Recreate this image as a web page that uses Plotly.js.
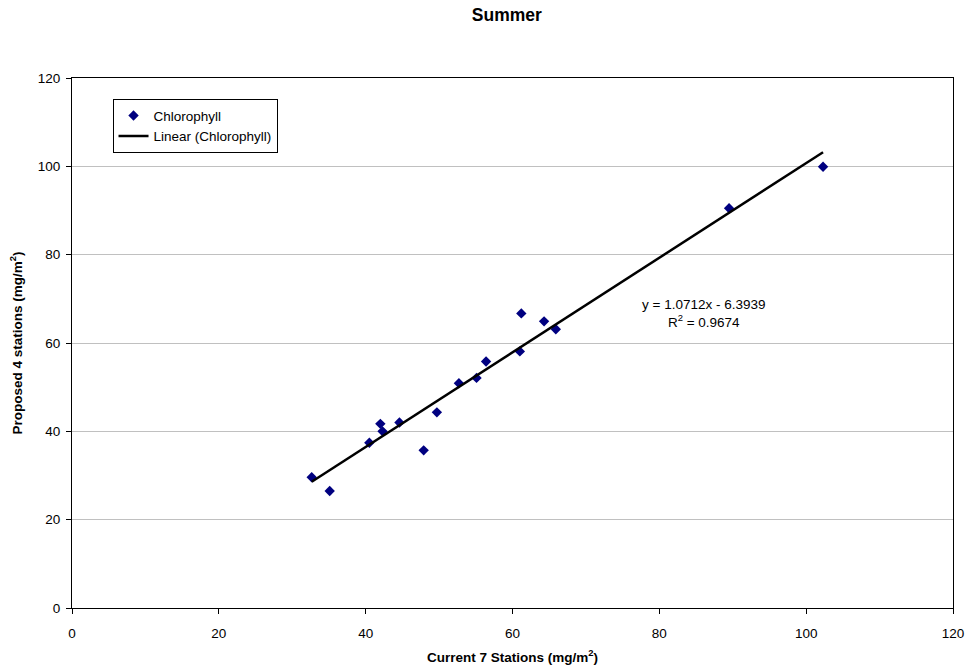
<!DOCTYPE html>
<html>
<head>
<meta charset="utf-8">
<script src="https://cdn.plot.ly/plotly-3.0.1.min.js"></script>
<style>html,body{margin:0;padding:0;background:#fff}#chart{width:969px;height:670px}</style>
</head>
<body>
<div id="chart"></div>
<script>
// Data
var currentStations = [32.65, 35.1, 40.5, 42.0, 42.3, 44.6, 47.9, 49.7, 52.7, 55.1, 56.4, 61.0, 61.2, 64.3, 65.9, 89.5, 102.3];
var proposedStations = [29.6, 26.5, 37.4, 41.7, 40.0, 42.0, 35.7, 44.3, 50.9, 52.1, 55.8, 58.1, 66.7, 64.9, 63.1, 90.5, 99.9];
var trendSlope = 1.0712;
var trendIntercept = -6.3939;
var rSquared = 0.9674;
var xTicks = [0, 20, 40, 60, 80, 100, 120];
var yTicks = [0, 20, 40, 60, 80, 100, 120];

var xMin = Math.min.apply(null, currentStations);
var xMax = Math.max.apply(null, currentStations);
var trendX = [xMin, xMax];
var trendY = trendX.map(function (x) { return trendSlope * x + trendIntercept; });

var font = 'Liberation Sans, Arial, sans-serif';
var fs = 13.5;

var traces = [
  {
    x: currentStations, y: proposedStations, type: 'scatter', mode: 'markers',
    name: 'Chlorophyll',
    marker: {symbol: 'diamond', color: '#000080', size: 8}
  },
  {
    x: trendX, y: trendY, type: 'scatter', mode: 'lines',
    name: 'Linear (Chlorophyll)',
    line: {color: '#000000', width: 2.5}
  }
];

var layout = {
  width: 969, height: 670,
  margin: {l: 72, r: 16, t: 78, b: 62},
  paper_bgcolor: '#ffffff', plot_bgcolor: '#ffffff',
  font: {family: font, size: fs, color: '#000'},
  title: {text: '<b>Summer</b>', font: {family: font, size: 17.5, color: '#000'}, xref: 'container', x: 0.523, xanchor: 'center', yref: 'container', y: 0.978, yanchor: 'middle'},
  showlegend: true,
  legend: {
    x: 0.046, y: 0.96, xanchor: 'left', yanchor: 'top',
    bordercolor: '#000', borderwidth: 1, bgcolor: '#fff',
    font: {family: font, size: fs, color: '#000'},
    tracegroupgap: 0, itemwidth: 30
  },
  xaxis: {
    range: [0, 120], tickvals: xTicks, ticktext: xTicks.map(String),
    showgrid: false, zeroline: false,
    showline: true, linecolor: '#000', linewidth: 1, mirror: true,
    ticks: 'outside', ticklen: 5, tickcolor: '#000', ticklabelstandoff: 8,
    tickfont: {family: font, size: fs, color: '#000'},
    title: {text: '<b>Current 7 Stations (mg/m<sup>2</sup>)</b>', font: {family: font, size: fs, color: '#000'}, standoff: 12}
  },
  yaxis: {
    range: [0, 120], tickvals: yTicks, ticktext: yTicks.map(String),
    showgrid: true, gridcolor: '#c0c0c0', gridwidth: 1, zeroline: false,
    showline: true, linecolor: '#000', linewidth: 1, mirror: true,
    ticks: 'outside', ticklen: 5, tickcolor: '#000', ticklabelstandoff: 3,
    tickfont: {family: font, size: fs, color: '#000'},
    title: {text: '<b>Proposed 4 stations (mg/m<sup>2</sup>)</b>', font: {family: font, size: fs, color: '#000'}, standoff: 12}
  },
  annotations: [
    {
      xref: 'x', yref: 'y', x: 86.05, y: 66.6, xanchor: 'center', yanchor: 'middle', showarrow: false,
      text: 'y = ' + trendSlope.toFixed(4) + 'x - ' + Math.abs(trendIntercept).toFixed(4) + '<br>R<sup>2</sup> = ' + rSquared.toFixed(4),
      font: {family: font, size: fs, color: '#000'}, align: 'center'
    }
  ]
};

Plotly.newPlot('chart', traces, layout, {displayModeBar: false, staticPlot: true});
</script>
</body>
</html>
